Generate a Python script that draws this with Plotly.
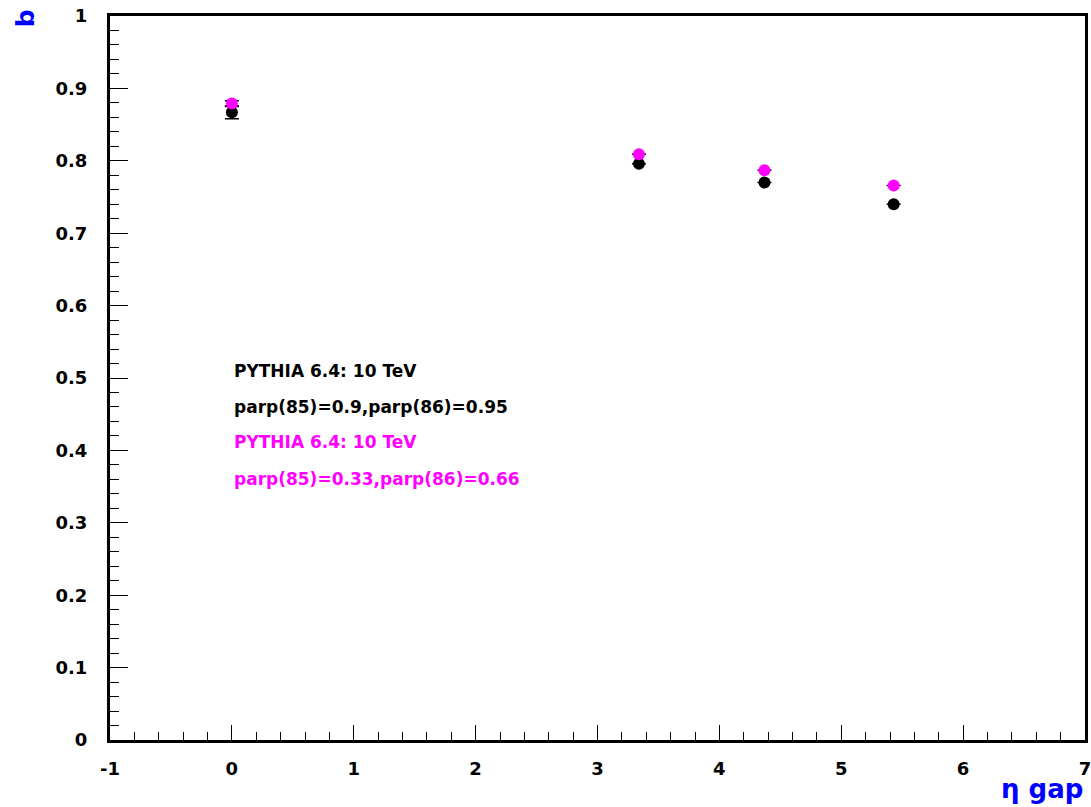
import plotly.graph_objects as go

# Data
eta_gap = [0.0, 3.34, 4.37, 5.43]
b_black = [0.867, 0.796, 0.770, 0.740]
b_black_err = [0.009, 0.0, 0.0, 0.0]
b_magenta = [0.879, 0.809, 0.787, 0.766]
b_magenta_err = [0.004, 0.0, 0.0, 0.0]

x_ticks = [-1, 0, 1, 2, 3, 4, 5, 6, 7]
x_ticklabels = ["-1", "0", "1", "2", "3", "4", "5", "6", "7"]
y_ticks = [0, 0.1, 0.2, 0.3, 0.4, 0.5, 0.6, 0.7, 0.8, 0.9, 1.0]
y_ticklabels = ["0", "0.1", "0.2", "0.3", "0.4", "0.5", "0.6", "0.7", "0.8", "0.9", "1"]

legend_lines = [
    ("PYTHIA 6.4: 10 TeV", "black", 0.509),
    ("parp(85)=0.9,parp(86)=0.95", "black", 0.460),
    ("PYTHIA 6.4: 10 TeV", "#ff00ff", 0.412),
    ("parp(85)=0.33,parp(86)=0.66", "#ff00ff", 0.361),
]

FONT = "DejaVu Sans"

fig = go.Figure()
fig.add_trace(go.Scatter(
    x=eta_gap, y=b_black, mode="markers",
    marker=dict(color="black", size=12, symbol="circle", line=dict(width=0)),
    error_y=dict(type="data", array=b_black_err, color="black", thickness=1.5, width=7),
    showlegend=False,
))
fig.add_trace(go.Scatter(
    x=eta_gap, y=b_magenta, mode="markers",
    marker=dict(color="#ff00ff", size=12, symbol="circle", line=dict(width=0)),
    error_y=dict(type="data", array=b_magenta_err, color="black", thickness=1.5, width=7),
    showlegend=False,
))

for text, color, yv in legend_lines:
    fig.add_annotation(x=0.0, y=yv, xref="x", yref="y", text=text, showarrow=False,
                       xanchor="left", yanchor="middle",
                       font=dict(family=FONT, size=17, color=color, weight="bold"))

fig.add_annotation(x=-0.087, y=0.997, xref="paper", yref="paper", text="b", showarrow=False,
                   textangle=-90, xanchor="center", yanchor="middle",
                   font=dict(family=FONT, size=25, color="blue", weight="bold"))
fig.add_annotation(x=1.0, y=-0.068, xref="paper", yref="paper", text="η gap", showarrow=False,
                   xanchor="right", yanchor="middle",
                   font=dict(family=FONT, size=26, color="blue", weight="bold"))

axis_common = dict(
    showline=True, linecolor="black", linewidth=3, mirror=True, automargin=False,
    showgrid=False, zeroline=False, ticks="inside", tickcolor="black",
    ticklabeloverflow="allow",
    tickfont=dict(family=FONT, size=18, color="black", weight="bold"),
)

fig.update_xaxes(range=[-1, 7], tickvals=x_ticks, ticktext=x_ticklabels, ticklen=15, tickwidth=1,
                 ticklabelstandoff=10,
                 minor=dict(dtick=0.2, ticks="inside", ticklen=8, tickcolor="black", tickwidth=1, showgrid=False),
                 **axis_common)
fig.update_yaxes(range=[0, 1], tickvals=y_ticks, ticktext=y_ticklabels, ticklen=18, tickwidth=1,
                 ticklabelstandoff=16,
                 minor=dict(dtick=0.02, ticks="inside", ticklen=9, tickcolor="black", tickwidth=1, showgrid=False),
                 **axis_common)

fig.update_layout(
    width=1091, height=807,
    margin=dict(l=110, r=6, t=16, b=67),
    plot_bgcolor="white", paper_bgcolor="white",
)

fig.write_html("out.html")
